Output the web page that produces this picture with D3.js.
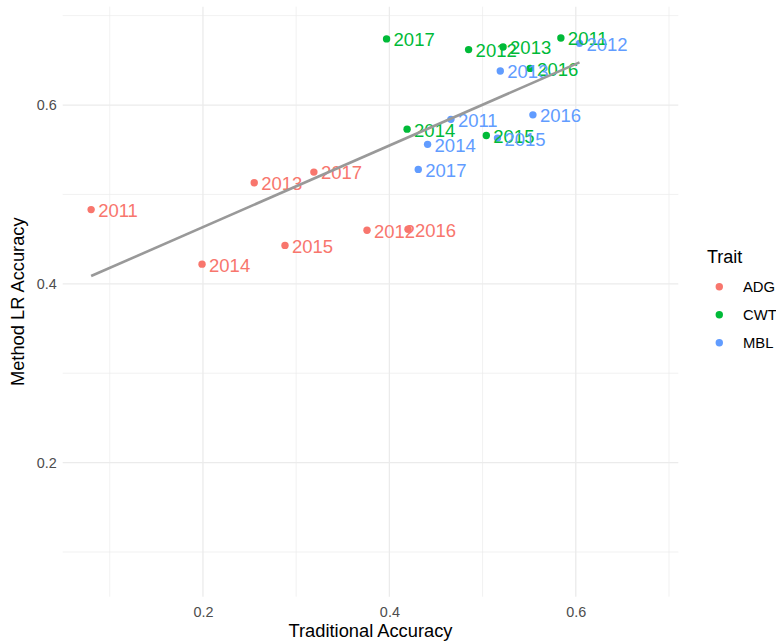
<!DOCTYPE html>
<html>
<head>
<meta charset="utf-8">
<script src="https://cdn.jsdelivr.net/npm/d3@7"></script>
<style>
  body { margin: 0; background: #fff; }
  text { font-family: Arial, "Liberation Sans", sans-serif; }
</style>
</head>
<body>
<svg id="chart" width="776" height="641"></svg>
<script>
// values
const traits = ['ADG', 'CWT', 'MBL'];
const traitColors = ['#F8766D', '#00BA38', '#619CFF'];
const years = ['2011', '2012', '2013', '2014', '2015', '2016', '2017'];

const adgTraditional = [0.080, 0.376, 0.255, 0.199, 0.288, 0.420, 0.319];
const adgMethodLR    = [0.483, 0.460, 0.513, 0.422, 0.443, 0.461, 0.525];
const cwtTraditional = [0.584, 0.485, 0.522, 0.419, 0.504, 0.551, 0.397];
const cwtMethodLR    = [0.675, 0.662, 0.665, 0.573, 0.566, 0.641, 0.674];
const mblTraditional = [0.466, 0.604, 0.519, 0.441, 0.516, 0.554, 0.431];
const mblMethodLR    = [0.584, 0.669, 0.638, 0.556, 0.563, 0.589, 0.528];

const xTicks = [0.2, 0.4, 0.6];
const yTicks = [0.2, 0.4, 0.6];
const xMinor = [0.1, 0.3, 0.5, 0.7];
const yMinor = [0.1, 0.3, 0.5, 0.7];

const points = [];
[[adgTraditional, adgMethodLR], [cwtTraditional, cwtMethodLR], [mblTraditional, mblMethodLR]]
    .forEach(([xs, ys], t) => {
        years.forEach((yr, i) => points.push({ trait: traits[t], year: yr, x: xs[i], y: ys[i] }));
    });

const svg = d3.select('#chart');
const panel = { left: 62.7, right: 678.3, top: 6.7, bottom: 596.7 };

const x = d3.scaleLinear().domain([0.0495, 0.710]).range([panel.left, panel.right]);
const y = d3.scaleLinear().domain([0.050, 0.710]).range([panel.bottom, panel.top]);
const color = d3.scaleOrdinal().domain(traits).range(traitColors);

// grid
const grid = svg.append('g').classed('grid', true);
grid.selectAll('.minor-x').data(xMinor).join('line')
    .attr('x1', d => x(d)).attr('x2', d => x(d))
    .attr('y1', panel.top).attr('y2', panel.bottom)
    .attr('stroke', '#EBEBEB').attr('stroke-width', 0.7);
grid.selectAll('.minor-y').data(yMinor).join('line')
    .attr('y1', d => y(d)).attr('y2', d => y(d))
    .attr('x1', panel.left).attr('x2', panel.right)
    .attr('stroke', '#EBEBEB').attr('stroke-width', 0.7);
grid.selectAll('.major-x').data(xTicks).join('line')
    .attr('x1', d => x(d)).attr('x2', d => x(d))
    .attr('y1', panel.top).attr('y2', panel.bottom)
    .attr('stroke', '#EBEBEB').attr('stroke-width', 1.3);
grid.selectAll('.major-y').data(yTicks).join('line')
    .attr('y1', d => y(d)).attr('y2', d => y(d))
    .attr('x1', panel.left).attr('x2', panel.right)
    .attr('stroke', '#EBEBEB').attr('stroke-width', 1.3);

// axes (no lines, labels only)
const xAxis = svg.append('g')
    .attr('transform', `translate(0,${panel.bottom})`)
    .call(d3.axisBottom(x).tickValues(xTicks).tickSize(0).tickPadding(10).tickFormat(d3.format('.1f')));
const yAxis = svg.append('g')
    .attr('transform', `translate(${panel.left},0)`)
    .call(d3.axisLeft(y).tickValues(yTicks).tickSize(0).tickPadding(6).tickFormat(d3.format('.1f')));
[xAxis, yAxis].forEach(a => {
    a.select('.domain').remove();
    a.selectAll('text').attr('fill', '#4D4D4D').style('font-size', '14.4px')
        .style('font-family', 'Arial, "Liberation Sans", sans-serif');
});

svg.append('text')
    .attr('x', (panel.left + panel.right) / 2).attr('y', 637)
    .attr('text-anchor', 'middle').style('font-size', '18.3px').attr('fill', '#000')
    .text('Traditional Accuracy');
svg.append('text')
    .attr('transform', `translate(24,${(panel.top + panel.bottom) / 2}) rotate(-90)`)
    .attr('text-anchor', 'middle').style('font-size', '18.3px').attr('fill', '#000')
    .text('Method LR Accuracy');

// points
svg.append('g').selectAll('circle').data(points).join('circle')
    .attr('cx', d => x(d.x)).attr('cy', d => y(d.y)).attr('r', 3.7)
    .attr('fill', d => color(d.trait));

// labels
svg.append('g').selectAll('text').data(points).join('text')
    .attr('x', d => x(d.x) + 7).attr('y', d => y(d.y))
    .attr('dy', '0.4em')
    .style('font-size', '18.5px')
    .attr('fill', d => color(d.trait))
    .text(d => d.year);

// overall linear fit
const mx = d3.mean(points, d => d.x), my = d3.mean(points, d => d.y);
const slope = d3.sum(points, d => (d.x - mx) * (d.y - my)) / d3.sum(points, d => (d.x - mx) ** 2);
const intercept = my - slope * mx;
const [x0, x1] = d3.extent(points, d => d.x);
svg.append('path')
    .datum([x0, x1])
    .attr('d', d3.line().x(d => x(d)).y(d => y(intercept + slope * d)))
    .attr('stroke', '#999999').attr('stroke-width', 2.6).attr('fill', 'none');

// legend
const legend = svg.append('g').attr('transform', 'translate(707,0)');
legend.append('text').attr('x', 0).attr('y', 263).style('font-size', '18px').attr('fill', '#000').text('Trait');
const item = legend.selectAll('.item').data(traits).join('g')
    .attr('transform', (d, i) => `translate(0,${286.7 + i * 28})`);
item.append('circle').attr('cx', 12.3).attr('cy', 0).attr('r', 3.7).attr('fill', d => color(d));
item.append('text').attr('x', 36).attr('y', 0).attr('dy', '0.36em')
    .style('font-size', '14.8px').attr('fill', '#000').text(d => d);
</script>
</body>
</html>
